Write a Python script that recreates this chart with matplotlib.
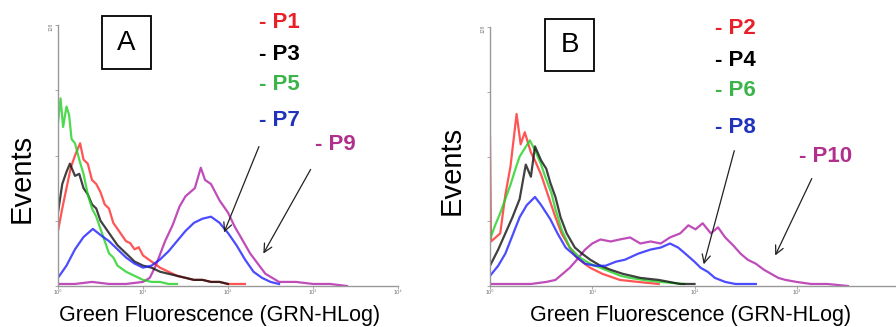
import matplotlib.pyplot as plt
from matplotlib.patches import FancyArrowPatch, Rectangle
import numpy as np

plt.rcParams['font.family'] = ['Liberation Sans', 'DejaVu Sans']

W, H = 896, 327

# panel A histograms: log10 channel position and event counts
a_p1_x = [0, .05, .1, .15, .2, .26, .3, .35, .4, .45, .5, .55, .6, .65, .7, .75, .8, .85, .9, .95,
          1.0, 1.1, 1.2, 1.3, 1.4, 1.5, 1.6, 1.7, 1.8, 1.9, 2.0, 2.2]
a_p1_y = [27, 38, 48, 58, 64, 70, 62, 60, 52, 50, 46, 40, 38, 31, 28, 25, 22, 21, 18, 19,
          15, 12, 9, 7, 5, 4, 3, 3, 2, 2, 1, 1]
a_p3_x = [0, .05, .1, .14, .2, .25, .3, .35, .4, .45, .5, .55, .6, .7, .8, .9, 1.0, 1.1, 1.2, 1.3,
          1.4, 1.5, 1.6, 1.7, 1.8, 1.9, 2.0]
a_p3_y = [36, 50, 56, 60, 54, 55, 48, 45, 40, 38, 32, 29, 26, 20, 16, 12, 10, 9, 7, 6,
          5, 4, 3, 3, 2, 2, 1]
a_p5_x = [0, .03, .06, .1, .13, .16, .2, .25, .3, .35, .4, .45, .5, .55, .6, .65, .7, .8, .9, 1.0,
          1.1, 1.2, 1.3, 1.4]
a_p5_y = [80, 92, 78, 88, 84, 72, 70, 62, 55, 45, 38, 34, 28, 22, 16, 14, 10, 7, 5, 3,
          2, 2, 1, 1]
a_p7_x = [0, .1, .2, .3, .41, .5, .6, .7, .8, .9, 1.0, 1.1, 1.2, 1.3, 1.4, 1.5, 1.6, 1.7, 1.8, 1.9,
          2.0, 2.1, 2.2, 2.3, 2.4, 2.5, 2.6]
a_p7_y = [4, 10, 18, 24, 28, 25, 22, 18, 14, 11, 9, 10, 13, 17, 22, 27, 31, 33, 34, 31,
          26, 20, 13, 7, 4, 2, 1]
a_p9_x = [0, .2, .4, .6, .8, 1.0, 1.08, 1.15, 1.26, 1.35, 1.43, 1.5, 1.61, 1.68, 1.73, 1.8, 1.9, 2.0,
          2.08, 2.15, 2.26, 2.35, 2.44, 2.52, 2.6, 2.8, 3.0, 3.2, 3.4]
a_p9_y = [1, 1, 2, 1, 1, 2, 4, 10, 22, 30, 39, 44, 48, 58, 52, 50, 42, 36,
          29, 24, 16, 11, 6, 4, 2, 2, 1, 1, 0]

# panel B histograms
b_p2_x = [0, 0.01, .1, .15, .2, .26, .3, .34, .4, .44, .5, .54, .6, .64, .7, .78, .85, .9, .98, 1.1,
          1.27, 1.45, 1.65]
b_p2_y = [74, 22, 26, 45, 59, 85, 70, 76, 66, 62, 55, 49, 40, 34, 26, 19, 14, 12, 9, 6,
          3, 2, 1]
b_p4_x = [0, .08, .15, .22, .29, .35, .4, .44, .5, .55, .59, .64, .69, .75, .83, .9, .98, 1.08, 1.18, 1.3,
          1.47, 1.65, 1.86, 2.0]
b_p4_y = [10, 18, 26, 34, 43, 60, 54, 69, 62, 58, 51, 44, 34, 26, 19, 16, 13, 10, 8, 6,
          4, 3, 1, 1]
b_p6_x = [0, .05, .1, .15, .2, .25, .29, .34, .39, .45, .5, .54, .6, .64, .7, .78, .88, .98, 1.08, 1.18,
          1.28, 1.37, 1.5, 1.67, 1.9]
b_p6_y = [23, 30, 36, 43, 50, 58, 64, 68, 72, 66, 60, 54, 46, 38, 28, 19, 14, 11, 9, 7,
          5, 4, 3, 2, 1]
b_p8_x = [0, .08, .15, .22, .29, .36, .44, .5, .59, .66, .74, .83, .93, 1.03, 1.13, 1.23, 1.32, 1.45, 1.57, 1.67,
          1.76, 1.84, 1.91, 2.0, 2.06, 2.13, 2.2, 2.3, 2.4, 2.6]
b_p8_y = [5, 10, 16, 25, 34, 40, 44, 40, 33, 26, 19, 15, 11, 10, 10, 12, 13, 16, 18, 19,
          21, 19, 16, 12, 9, 7, 4, 2, 1, 1]
b_p10_x = [0, .2, .4, .55, .64, .71, .78, .85, .93, 1.0, 1.08, 1.18, 1.27, 1.37, 1.47, 1.57, 1.67, 1.76, 1.86, 1.94,
           2.01, 2.08, 2.16, 2.23, 2.3, 2.38, 2.45, 2.52, 2.6, 2.68, 2.75, 2.82, 2.89, 3.0, 3.14, 3.3, 3.5]
b_p10_y = [1, 1, 1, 2, 3, 6, 9, 13, 18, 21, 23, 22, 23, 24, 21, 22, 21, 24, 26, 30,
           28, 31, 26, 29, 24, 20, 16, 13, 11, 8, 6, 4, 3, 2, 1, 1, 0]

line_colors = {'red': '#ff2a2a', 'black': '#111111', 'green': '#22d022',
               'blue': '#1f1fff', 'magenta': '#b020a8'}
label_colors = {'red': '#e8202a', 'black': '#000000', 'green': '#3cb44a',
                'blue': '#2233bb', 'magenta': '#b0308c'}

xtick_labels = ['10\u2070', '10\u00b9', '10\u00b2', '10\u00b3', '10\u2074']

panels = [
    {'rect': (58, 25, 398, 286), 'letter': 'A', 'box': (102, 16, 151, 69),
     'series': [('magenta', a_p9_x, a_p9_y), ('red', a_p1_x, a_p1_y), ('black', a_p3_x, a_p3_y),
                ('green', a_p5_x, a_p5_y), ('blue', a_p7_x, a_p7_y)],
     'labels': [('- P1', 'red', 259, 23), ('- P3', 'black', 259, 55), ('- P5', 'green', 259, 85),
                ('- P7', 'blue', 259, 120), ('- P9', 'magenta', 315, 144)],
     'arrows': [((260, 144), (223, 235)), ((312, 167), (262, 256))],
     'ylabel': (22, 178), 'xlabel': (220, 315), 'last_tick': True},
    {'rect': (490, 27, 899, 286), 'letter': 'B', 'box': (545, 19, 594, 71),
     'series': [('magenta', b_p10_x, b_p10_y), ('red', b_p2_x, b_p2_y), ('green', b_p6_x, b_p6_y),
                ('black', b_p4_x, b_p4_y), ('blue', b_p8_x, b_p8_y)],
     'labels': [('- P2', 'red', 715, 29), ('- P4', 'black', 715, 60), ('- P6', 'green', 715, 90),
                ('- P8', 'blue', 715, 128), ('- P10', 'magenta', 799, 157)],
     'arrows': [((735, 148), (703, 267)), ((813, 176), (774, 258))],
     'ylabel': (452, 170), 'xlabel': (691, 315), 'last_tick': False},
]


def fx(px):
    return px / W


def fy(py):
    return 1 - py / H


fig = plt.figure(figsize=(W / 100, H / 100), dpi=100)

for p in panels:
    x0, y0, x1, y1 = p['rect']
    ax = fig.add_axes([fx(x0), fy(y1), (x1 - x0) / W, (y1 - y0) / H])
    for color, lx, ly in p['series']:
        ax.plot(10 ** np.array(lx), ly, color=line_colors[color], lw=1.6, alpha=0.8)
    ax.set_xscale('log')
    ax.set_xlim(1, 1e4)
    ax.set_ylim(0, 128)
    ax.set_xticks([1, 10, 100, 1000, 10000])
    labels = list(xtick_labels)
    if not p['last_tick']:
        labels[-1] = ''
    ax.set_xticklabels(labels, fontsize=4, color='#777777')
    ax.minorticks_off()
    ax.set_yticks([0, 32, 64, 96, 128])
    ax.set_yticklabels(['', '', '', '', '128'], fontsize=3.5, color='#777777', rotation=90)
    ax.tick_params(length=2, width=0.6, color='#999999', pad=1)
    for s in ['top', 'right']:
        ax.spines[s].set_visible(False)
    for s in ['left', 'bottom']:
        ax.spines[s].set_color('#999999')
        ax.spines[s].set_linewidth(1.0)
    ax.patch.set_alpha(0)

    bx0, by0, bx1, by1 = p['box']
    fig.patches.append(Rectangle((fx(bx0), fy(by1)), (bx1 - bx0) / W, (by1 - by0) / H,
                                 transform=fig.transFigure, fill=False, lw=1.3,
                                 edgecolor='black'))
    fig.text(fx((bx0 + bx1) / 2), fy((by0 + by1) / 2), p['letter'], fontsize=20,
             ha='center', va='center')

    for text, color, px, py in p['labels']:
        fig.text(fx(px), fy(py), text, fontsize=16, fontweight='bold',
                 color=label_colors[color], ha='left', va='center')

    for (sx, sy), (ex, ey) in p['arrows']:
        fig.add_artist(FancyArrowPatch(
            (fx(sx), fy(sy)), (fx(ex), fy(ey)), transform=fig.transFigure,
            arrowstyle='->,head_length=6,head_width=3', color='#222222', lw=0.9))

    fig.text(fx(p['ylabel'][0]), fy(p['ylabel'][1]), 'Events', fontsize=21,
             rotation=90, ha='center', va='center')
    fig.text(fx(p['xlabel'][0]), fy(p['xlabel'][1]), 'Green Fluorescence (GRN-HLog)',
             fontsize=15.5, ha='center', va='center')

fig.savefig('out.png', dpi=100)
